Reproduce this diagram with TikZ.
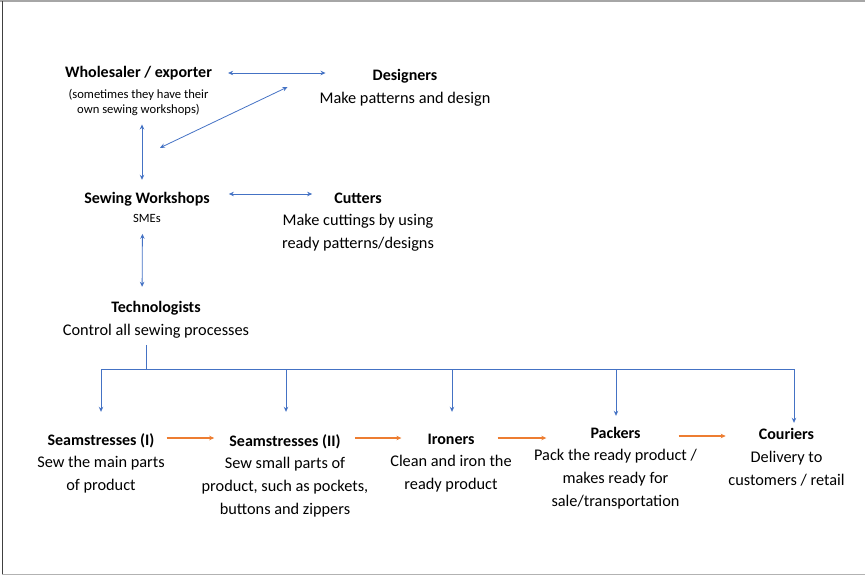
\documentclass[tikz,border=0pt]{standalone}
\usepackage{fontspec}
\setmainfont{Carlito}
\RequirePackage{xcolor}
\definecolor{lineblue}{RGB}{68,114,196}
\definecolor{floworange}{RGB}{237,125,49}
\usetikzlibrary{calc}
\usetikzlibrary{positioning}
\usetikzlibrary{arrows.meta}
\tikzset{
  role/.style={inner sep=0, font=\fontsize{16}{19}\selectfont\bfseries, text height=10pt, text depth=4pt},
  task/.style={inner sep=0, align=center, font=\fontsize{16.3}{22.8}\selectfont},
  remark/.style={inner sep=0, align=center, font=\fontsize{12.6}{15}\selectfont},
  link/.style={draw=lineblue, line width=0.8pt, {Stealth[length=5pt,width=4.5pt]}-{Stealth[length=5pt,width=4.5pt]}},
  drop/.style={draw=lineblue, line width=0.8pt, -{Stealth[length=5pt,width=4.5pt]}},
  flow/.style={draw=floworange, line width=1.3pt, -{Stealth[length=5pt,width=4.5pt]}},
}

\begin{document}
\begin{tikzpicture}[x=1pt, y=1pt]
  \useasboundingbox (0,0) rectangle (865,-576);
  \draw [gray!70, line width=1.5pt] (0,-1) -- (865,-1);
  \draw [black!75, line width=1pt] (2.5,-1) -- (2.5,-574);
  \draw [gray!60, line width=1.5pt] (2,-574.5) -- (865,-574.5);

  \node [role, anchor=base] (whole) at (138.5,-77) {Wholesaler / exporter};
  \node [remark, below=7.5pt of whole] (wholen) {(sometimes they have their\\own sewing workshops)};

  \node [role, anchor=base] (desig) at (405,-80) {Designers};
  \node [task, below=7.7pt of desig] (desigd) {Make patterns and design};

  \node [role, anchor=base] (sewing) at (147,-203) {Sewing Workshops};
  \node [remark, below=6.5pt of sewing] (sewingn) {SMEs};

  \node [role, anchor=base] (cutt) at (358,-203) {Cutters};
  \node [task, below=6.7pt of cutt] (cuttd) {Make cuttings by using\\ready patterns/designs};

  \node [role, anchor=base] (tech) at (156,-312) {Technologists};
  \node [task, below=7.7pt of tech] (techd) {Control all sewing processes};

  \node [role, anchor=base] (seam1) at (101,-445) {Seamstresses (I)};
  \node [task, below=7.2pt of seam1] (seam1d) {Sew the main parts\\of product};

  \node [role, anchor=base] (seam2) at (285,-446) {Seamstresses (II)};
  \node [task, below=7.2pt of seam2] (seam2d) {Sew small parts of\\product, such as pockets,\\buttons and zippers};

  \node [role, anchor=base] (iron) at (451,-444) {Ironers};
  \node [task, below=7.2pt of iron] (irond) {Clean and iron the\\ready product};

  \node [role, anchor=base] (pack) at (615.5,-438) {Packers};
  \node [task, below=7.2pt of pack] (packd) {Pack the ready product /\\makes ready for\\sale/transportation};

  \node [role, anchor=base] (cour) at (786.5,-439) {Couriers};
  \node [task, below=8pt of cour] (courd) {Delivery to\\customers / retail};

  % upper part
  \draw [link, shorten <=16pt, shorten >=47pt] ([yshift=1pt]whole.east) -- ([yshift=1pt]whole.east -| desig.west);
  \draw [link] ($(desig.west)+(-85,-10)$) -- ($(sewing.north)+(13,45)$);
  \draw [link, shorten <=9pt, shorten >=13pt] ([xshift=3.5pt]wholen.south) -- ([xshift=-5pt]sewing.north);
  \draw [link, shorten <=19pt, shorten >=22pt] ([yshift=6pt]sewing.east) -- ([yshift=6pt]sewing.east -| cutt.west);
  \draw [link, shorten <=11.5pt, shorten >=15pt] ([xshift=-4.5pt]sewingn.south) -- ([xshift=-14pt]tech.north);

  % tree down to the workers
  \draw [lineblue, line width=0.8pt, shorten <=6.5pt] ([xshift=-9.5pt]techd.south) -- ++(0,-30.5) coordinate (bus);
  \foreach \n/\dx/\gap in {seam1/0/23, seam2/1/24, iron/1/22, pack/0.5/12, cour/7.5/6}
    \draw [drop, shorten >=\gap pt] (bus) -| ([xshift=\dx pt]\n.north);

  % work flow
  \foreach \a/\b/\s/\e/\dy in {seam1/seam2/12/15/4, seam2/iron/14/26/5, iron/pack/23/44/3, pack/cour/38/33/-1}
    \draw [flow, shorten <=\s pt, shorten >=\e pt] ([yshift=\dy pt]\a.east) -- ([yshift=\dy pt]\a.east -| \b.west);
\end{tikzpicture}
\end{document}
